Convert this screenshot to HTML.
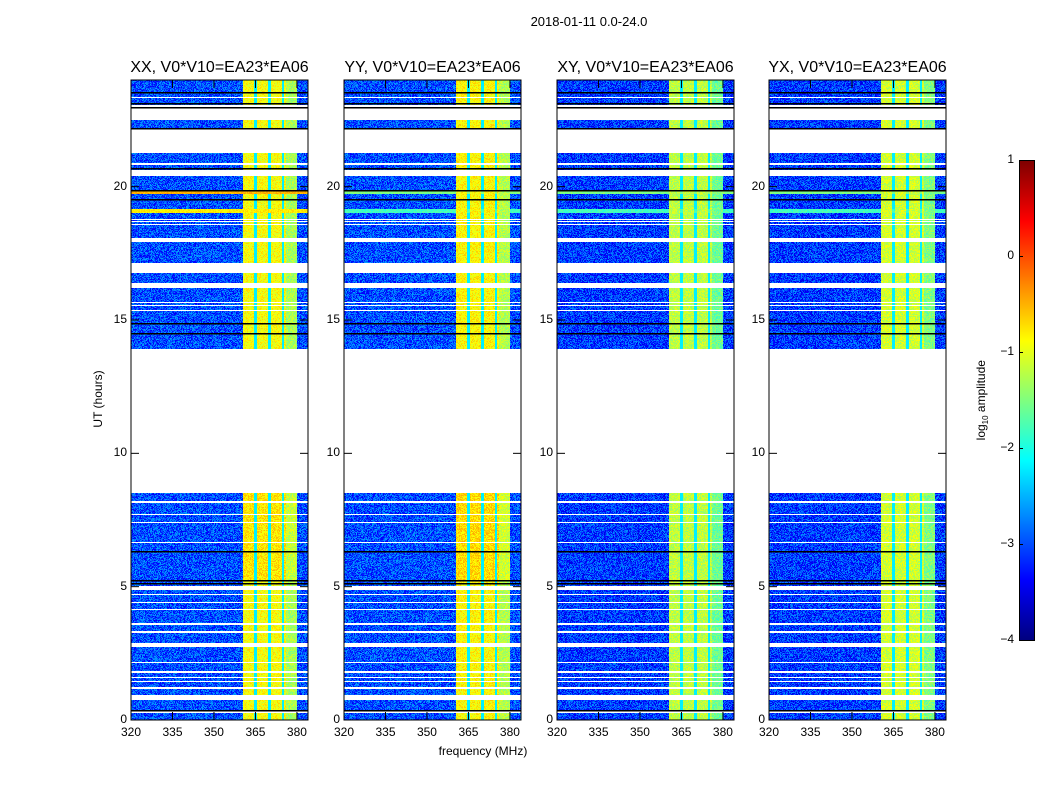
<!DOCTYPE html>
<html><head><meta charset="utf-8"><style>
body{margin:0;background:#fff;width:1050px;height:800px;overflow:hidden;font-family:"Liberation Sans","DejaVu Sans",sans-serif;}
#root{position:relative;width:1050px;height:800px;}
canvas{position:absolute;image-rendering:pixelated;}
.t{position:absolute;white-space:nowrap;color:#000;}
</style></head><body>
<div id="root">
<div class="t" style="left:489px;top:14px;width:200px;text-align:center;font-size:13px;">2018-01-11 0.0-24.0</div>
<div class="t" style="left:383px;top:744px;width:200px;text-align:center;font-size:12px;">frequency (MHz)</div>
<div class="t" style="left:48px;top:392px;width:100px;text-align:center;font-size:12px;transform:rotate(-90deg);">UT (hours)</div>
<div class="t" style="left:932px;top:392px;width:100px;text-align:center;font-size:12px;transform:rotate(-90deg);">log<sub style="font-size:8px">10</sub> amplitude</div>
</div>
<script>
// ---- data ----
const panelNames = ["XX, V0*V10=EA23*EA06","YY, V0*V10=EA23*EA06","XY, V0*V10=EA23*EA06","YX, V0*V10=EA23*EA06"];
const panelLeft = [131,344,557,769];
const freqTicks = [320,335,350,365,380];
const timeTicks = [0,5,10,15,20];
const cbTicks = [1,0,-1,-2,-3,-4];
const bandStart = [360.5,360.5,360.5,360.5];
const bandEnd = [380,380,380,380];
const bandLevel = [-0.9,-0.85,-1.2,-1.1];
const backgroundLevel = [-3.0,-3.0,-3.1,-3.1];
const notchFreqs = [365,370,375];
const flagStart = [23.32,22.99,22.5,21.26,20.81,20.40,18.56,18.67,18.75,17.92,16.76,16.20,15.65,15.54,15.35,8.51,8.14,7.67,7.37,6.62,4.87,4.67,4.37,4.14,3.56,3.28,2.74,2.12,1.78,1.59,1.41,1.18,0.75,0.28];
const flagEnd   = [23.36,23.06,22.95,22.16,20.89,20.62,18.59,18.70,18.78,18.07,17.14,16.39,15.69,15.58,15.39,13.91,8.21,7.71,7.41,6.66,5.02,4.71,4.41,4.18,3.64,3.32,2.89,2.16,1.82,1.63,1.45,1.22,0.94,0.32];
const blackLines = [23.55,23.14,22.99,22.2,20.7,19.87,19.54,14.89,14.51,6.34,5.25,5.15,0.37];
const hotRowStart = [19.74,19.02];
const hotRowEnd   = [19.84,19.18];
const hotRowLevel = [-0.5,-0.8];
// ---- scales ----
const W=177,H=640,TOP=80,F0=320,F1=384,T0=0,T1=24;
const fx=f=>(f-F0)/(F1-F0)*W;
const ty=t=>H-(t-T0)/(T1-T0)*H;
function jet(v){let x=(v+4)/5;x=Math.max(0,Math.min(1,x));
 const c=t=>Math.max(0,Math.min(1,1.5-Math.abs(4*x-t)));
 return [c(3)*255,c(2)*255,c(1)*255];}
function hash(a,b,c){let h=(a*374761393+b*668265263+c*2147483647)|0;h=(h^(h>>>13))*1274126177|0;return ((h^(h>>>16))>>>0)/4294967295;}
const root=document.getElementById('root');
panelNames.forEach((name,p)=>{
 const cv=document.createElement('canvas');cv.width=W;cv.height=H;
 
 
 cv.style.left=panelLeft[p]+'px';cv.style.top=TOP+'px';
 root.appendChild(cv);
 const ctx=cv.getContext('2d');const img=ctx.createImageData(W,H);
 for(let y=0;y<H;y++){const t=T1-(y+0.5)/H*(T1-T0);
  let flagged=false;for(let k=0;k<flagStart.length;k++)if(t>=flagStart[k]&&t<=flagEnd[k])flagged=true;
  let hot=null;for(let k=0;k<hotRowStart.length;k++)if(t>=hotRowStart[k]&&t<=hotRowEnd[k])hot=hotRowLevel[k]-(p?1.0:0);
  for(let x=0;x<W;x++){const i=(y*W+x)*4;
   if(flagged){img.data[i]=img.data[i+1]=img.data[i+2]=255;img.data[i+3]=255;continue;}
   const f=F0+(x+0.5)/W*(F1-F0);const r=hash(x,y,p);
   let v=backgroundLevel[p]+(r-0.5)*0.9;
   if(f>=bandStart[p]&&f<=bandEnd[p]){v=bandLevel[p]+(r-0.5)*0.5;
     if(f>376)v-=0.4;
     if(t>5.2&&t<8.5&&p<2)v+=0.15;
     for(const n of notchFreqs)if(Math.abs(f-n)<0.5)v=-2.2;}
   if(hot!==null)v=Math.max(v,hot+(r-0.5)*0.3);
   const c=jet(v);img.data[i]=c[0];img.data[i+1]=c[1];img.data[i+2]=c[2];img.data[i+3]=255;}}
 ctx.putImageData(img,0,0);
 ctx.fillStyle='#000';
 blackLines.forEach(t=>ctx.fillRect(0,Math.round(ty(t)),W,1.5));
 const sv=document.createElementNS('http://www.w3.org/2000/svg','svg');
 
 
 sv.setAttribute('width',W+2);sv.setAttribute('height',H+2);
 sv.style.position='absolute';sv.style.left=(panelLeft[p]-1)+'px';sv.style.top=(TOP-1)+'px';
 let s=`<rect x="1" y="1" width="${W}" height="${H}" fill="none" stroke="#000" stroke-width="1"/>`;
 freqTicks.forEach(f=>{const x=fx(f)+1;s+=`<line x1="${x}" x2="${x}" y1="${H+1}" y2="${H-7}" stroke="#000"/><line x1="${x}" x2="${x}" y1="1" y2="9" stroke="#000"/>`;});
 timeTicks.forEach(t=>{const y=ty(t)+1;s+=`<line x1="1" x2="9" y1="${y}" y2="${y}" stroke="#000"/><line x1="${W+1}" x2="${W-7}" y1="${y}" y2="${y}" stroke="#000"/>`;});
 sv.innerHTML=s;root.appendChild(sv);
 const ti=document.createElement('div');ti.className='t';ti.textContent=name;
 
 
 ti.style.cssText=`left:${panelLeft[p]-40}px;top:59px;width:${W+80}px;text-align:center;font-size:16px;`;root.appendChild(ti);
 freqTicks.forEach(f=>{const d=document.createElement('div');d.className='t';d.textContent=f;
  
  
  d.style.cssText=`left:${panelLeft[p]+fx(f)-20}px;top:725px;width:40px;text-align:center;font-size:12px;`;root.appendChild(d);});
 timeTicks.forEach(t=>{const d=document.createElement('div');d.className='t';d.textContent=t;
  
  
  d.style.cssText=`left:${panelLeft[p]-44}px;top:${TOP+ty(t)-8}px;width:40px;text-align:right;font-size:12px;`;root.appendChild(d);});
});
const cb=document.createElement('canvas');cb.width=15;cb.height=480;


cb.style.left='1019px';cb.style.top='160px';cb.style.border='1px solid #000';cb.style.boxSizing='border-box';cb.style.width='16px';cb.style.height='481px';
root.appendChild(cb);
const cc=cb.getContext('2d');
for(let y=0;y<480;y++){const c=jet(1-(y+0.5)/480*5);cc.fillStyle=`rgb(${c[0]|0},${c[1]|0},${c[2]|0})`;cc.fillRect(0,y,15,1);}
cbTicks.forEach(v=>{const y=160+(1-v)/5*480;
 const d=document.createElement('div');d.className='t';d.textContent=v<0?'\u2212'+(-v):v;
 
 
 d.style.cssText=`left:974px;top:${y-8}px;width:40px;text-align:right;font-size:12px;`;root.appendChild(d);
 const tk=document.createElement('div');
 
 
 tk.style.cssText=`position:absolute;left:1019px;top:${y}px;width:4px;height:1px;background:#000;`;root.appendChild(tk);});
</script>
</body></html>
